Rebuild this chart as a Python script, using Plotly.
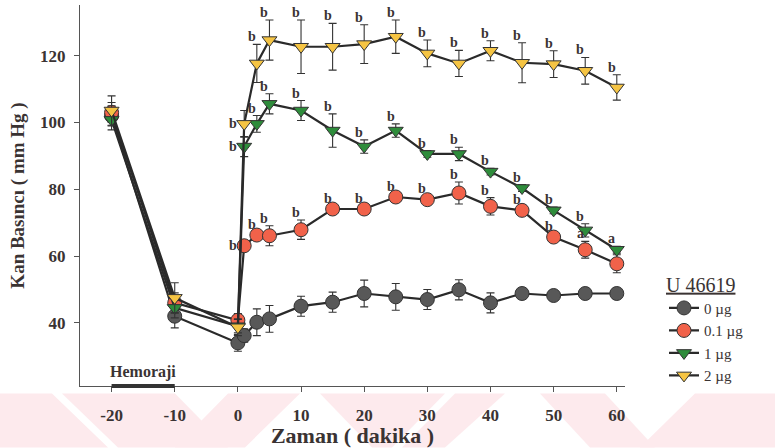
import plotly.graph_objects as go

# Zaman (dakika) ve ortalama kan basıncı (mm Hg) ± SEM
time = [-20, -10, 0, 1, 3, 5, 10, 15, 20, 25, 30, 35, 40, 45, 50, 55, 60]

bp_0 = [102, 42, 34, 36.2, 40.2, 41.2, 45, 46.2, 48.8, 47.8, 47, 49.9, 46, 48.8, 48.2, 48.8, 48.8]
err_0 = [3, 3.5, 2.5, 2, 4, 4, 3, 3, 4, 4, 3, 3, 3, 1, 1, 1, 1]

bp_01 = [103, 46, 40.8, 63.1, 66.3, 66.1, 67.9, 74.1, 74.1, 77.7, 76.9, 78.9, 74.9, 73.7, 65.7, 61.9, 57.7]
err_01 = [3, 3, 2, 1, 1, 3, 2.9, 1, 1, 1, 1, 3.3, 2.6, 1, 1, 2.5, 2.7]

bp_1 = [100.8, 44.5, 39, 92.8, 99.6, 105.6, 103.6, 97.6, 92.8, 97.6, 90.6, 90.6, 85.3, 80.4, 73.7, 67.7, 61.9]
err_1 = [3, 3, 2, 3, 2.5, 3, 3, 5, 2, 2, 1, 2, 1, 1, 1, 2, 1]

bp_2 = [103.6, 47.5, 38.7, 99.6, 117.7, 124.7, 122.7, 122.7, 123.5, 125.7, 120.7, 117.7, 121.5, 117.9, 117.5, 115.5, 110.5]
err_2 = [4.4, 4.5, 2.5, 4, 5.7, 6, 8, 7, 5.8, 5, 4, 3.9, 3, 6, 4, 4, 3.8]

# istatistiksel anlamlılık harfleri
sig_0 = [""] * 17
sig_01 = ["", "", "", "b", "b", "b", "b", "b", "b", "b", "b", "b", "b", "b", "b", "a", ""]
sig_1 = ["", "", "", "b", "b", "b", "b", "b", "b", "b", "b", "b", "b", "b", "b", "b", "a"]
sig_2 = ["", "", "", "b", "b", "b", "b", "b", "b", "b", "b", "b", "b", "b", "b", "b", "b"]

x_ticks = [-20, -10, 0, 10, 20, 30, 40, 50, 60]
x_ticktext = ["-20", "-10", "0", "10", "20", "30", "40", "50", "60"]
y_ticks = [40, 60, 80, 100, 120]

series = [
    ("0 µg", bp_0, err_0, sig_0, "circle", "#585858"),
    ("0.1 µg", bp_01, err_01, sig_01, "circle", "#f1624a"),
    ("1 µg", bp_1, err_1, sig_1, "triangle-down", "#2e8c3b"),
    ("2 µg", bp_2, err_2, sig_2, "triangle-down", "#f5c443"),
]

INK = "#3a3333"
SERIF = "Liberation Serif"

fig = go.Figure()
annotations = []
for name, vals, errs, sigs, sym, col in series:
    fig.add_trace(go.Scatter(
        x=time, y=vals, name=name, mode="lines+markers",
        line=dict(color="#2a2a2a", width=2.2),
        marker=dict(symbol=sym, size=14 if sym == "circle" else 13, color=col,
                    line=dict(color="#333333", width=1)),
        error_y=dict(type="data", array=errs, visible=True, color="#333333",
                     thickness=1.1, width=4),
    ))
    for t, v, e, s in zip(time, vals, errs, sigs):
        if not s:
            continue
        if t == 1:
            annotations.append(dict(x=t, y=v, text="<b>%s</b>" % s, showarrow=False,
                                    xanchor="right", yanchor="middle", xshift=-5,
                                    font=dict(family=SERIF, size=14, color=INK)))
        else:
            annotations.append(dict(x=t, y=v + e, text="<b>%s</b>" % s, showarrow=False,
                                    xanchor="center", yanchor="bottom", xshift=-5, yshift=-2,
                                    font=dict(family=SERIF, size=14, color=INK)))

annotations.append(dict(x=-15, y=0, xref="x", yref="paper", yanchor="bottom", yshift=3,
                        text="Hemoraji", showarrow=False,
                        font=dict(family=SERIF, size=16, color=INK, weight="bold")))

# plot area in pixels: x 80..625, y 5..386.5
L, R, T, B = 80, 625, 5, 386.5
W, H = R - L, B - T


def px(x, y):
    return (x - L) / W, (B - y) / H


def poly(points):
    pts = [px(x, y) for x, y in points]
    return "M " + " L ".join("%.4f,%.4f" % p for p in pts) + " Z"


shapes = []
# soluk pembe filigran şeritleri
wm_top, wm_bot = 394, 448
bands = [
    [(0, wm_top), (52, wm_top), (108, wm_bot), (0, wm_bot)],
    [(62, wm_top), (175, wm_top), (228, wm_bot), (118, wm_bot)],
    [(228, wm_top), (300, wm_top), (245, wm_bot), (175, wm_bot)],
    [(320, wm_top), (445, wm_top), (392, wm_bot), (372, wm_bot)],
    [(455, wm_top), (505, wm_top), (445, wm_bot), (402, wm_bot)],
    [(540, wm_top), (605, wm_top), (655, wm_bot), (590, wm_bot)],
    [(695, wm_top), (775, wm_top), (775, wm_bot), (640, wm_bot)],
]
for b in bands:
    shapes.append(dict(type="path", xref="paper", yref="paper", path=poly(b),
                       fillcolor="#fdeaed", line=dict(width=0), layer="below"))

# hemoraji dönemi
shapes.append(dict(type="line", xref="x", yref="paper", x0=-20, x1=-10, y0=0, y1=0,
                   line=dict(color="#333333", width=4)))

axis_common = dict(
    showgrid=False, zeroline=False, showline=True, linecolor="#555555", linewidth=1.3,
    ticks="outside", ticklen=5, tickcolor="#555555",
    tickfont=dict(family=SERIF, size=17, color=INK, weight="bold"),
)

fig.update_layout(
    width=775, height=448,
    margin=dict(l=L, r=775 - R, t=T, b=448 - B),
    paper_bgcolor="white", plot_bgcolor="rgba(0,0,0,0)",
    showlegend=True,
    legend=dict(
        x=(664 - L) / W, y=(B - 266) / H, xanchor="left", yanchor="top",
        title=dict(text="<u>U 46619</u>", font=dict(family=SERIF, size=20, color=INK)),
        font=dict(family=SERIF, size=15, color=INK),
        bgcolor="rgba(0,0,0,0)", tracegroupgap=0,
    ),
    xaxis=dict(
        range=[-25, 61.3], tickvals=x_ticks, ticktext=x_ticktext, ticklabelstandoff=8,
        title=dict(text="Zaman ( dakika )", standoff=2,
                   font=dict(family=SERIF, size=22, color=INK, weight="bold")),
        **axis_common,
    ),
    yaxis=dict(
        range=[21.1, 135.2], tickvals=y_ticks, ticklabelstandoff=5,
        title=dict(text="Kan Basıncı ( mm Hg )", standoff=10,
                   font=dict(family=SERIF, size=19, color=INK, weight="bold")),
        **axis_common,
    ),
    annotations=annotations,
    shapes=shapes,
)

fig.write_html("out.html")
